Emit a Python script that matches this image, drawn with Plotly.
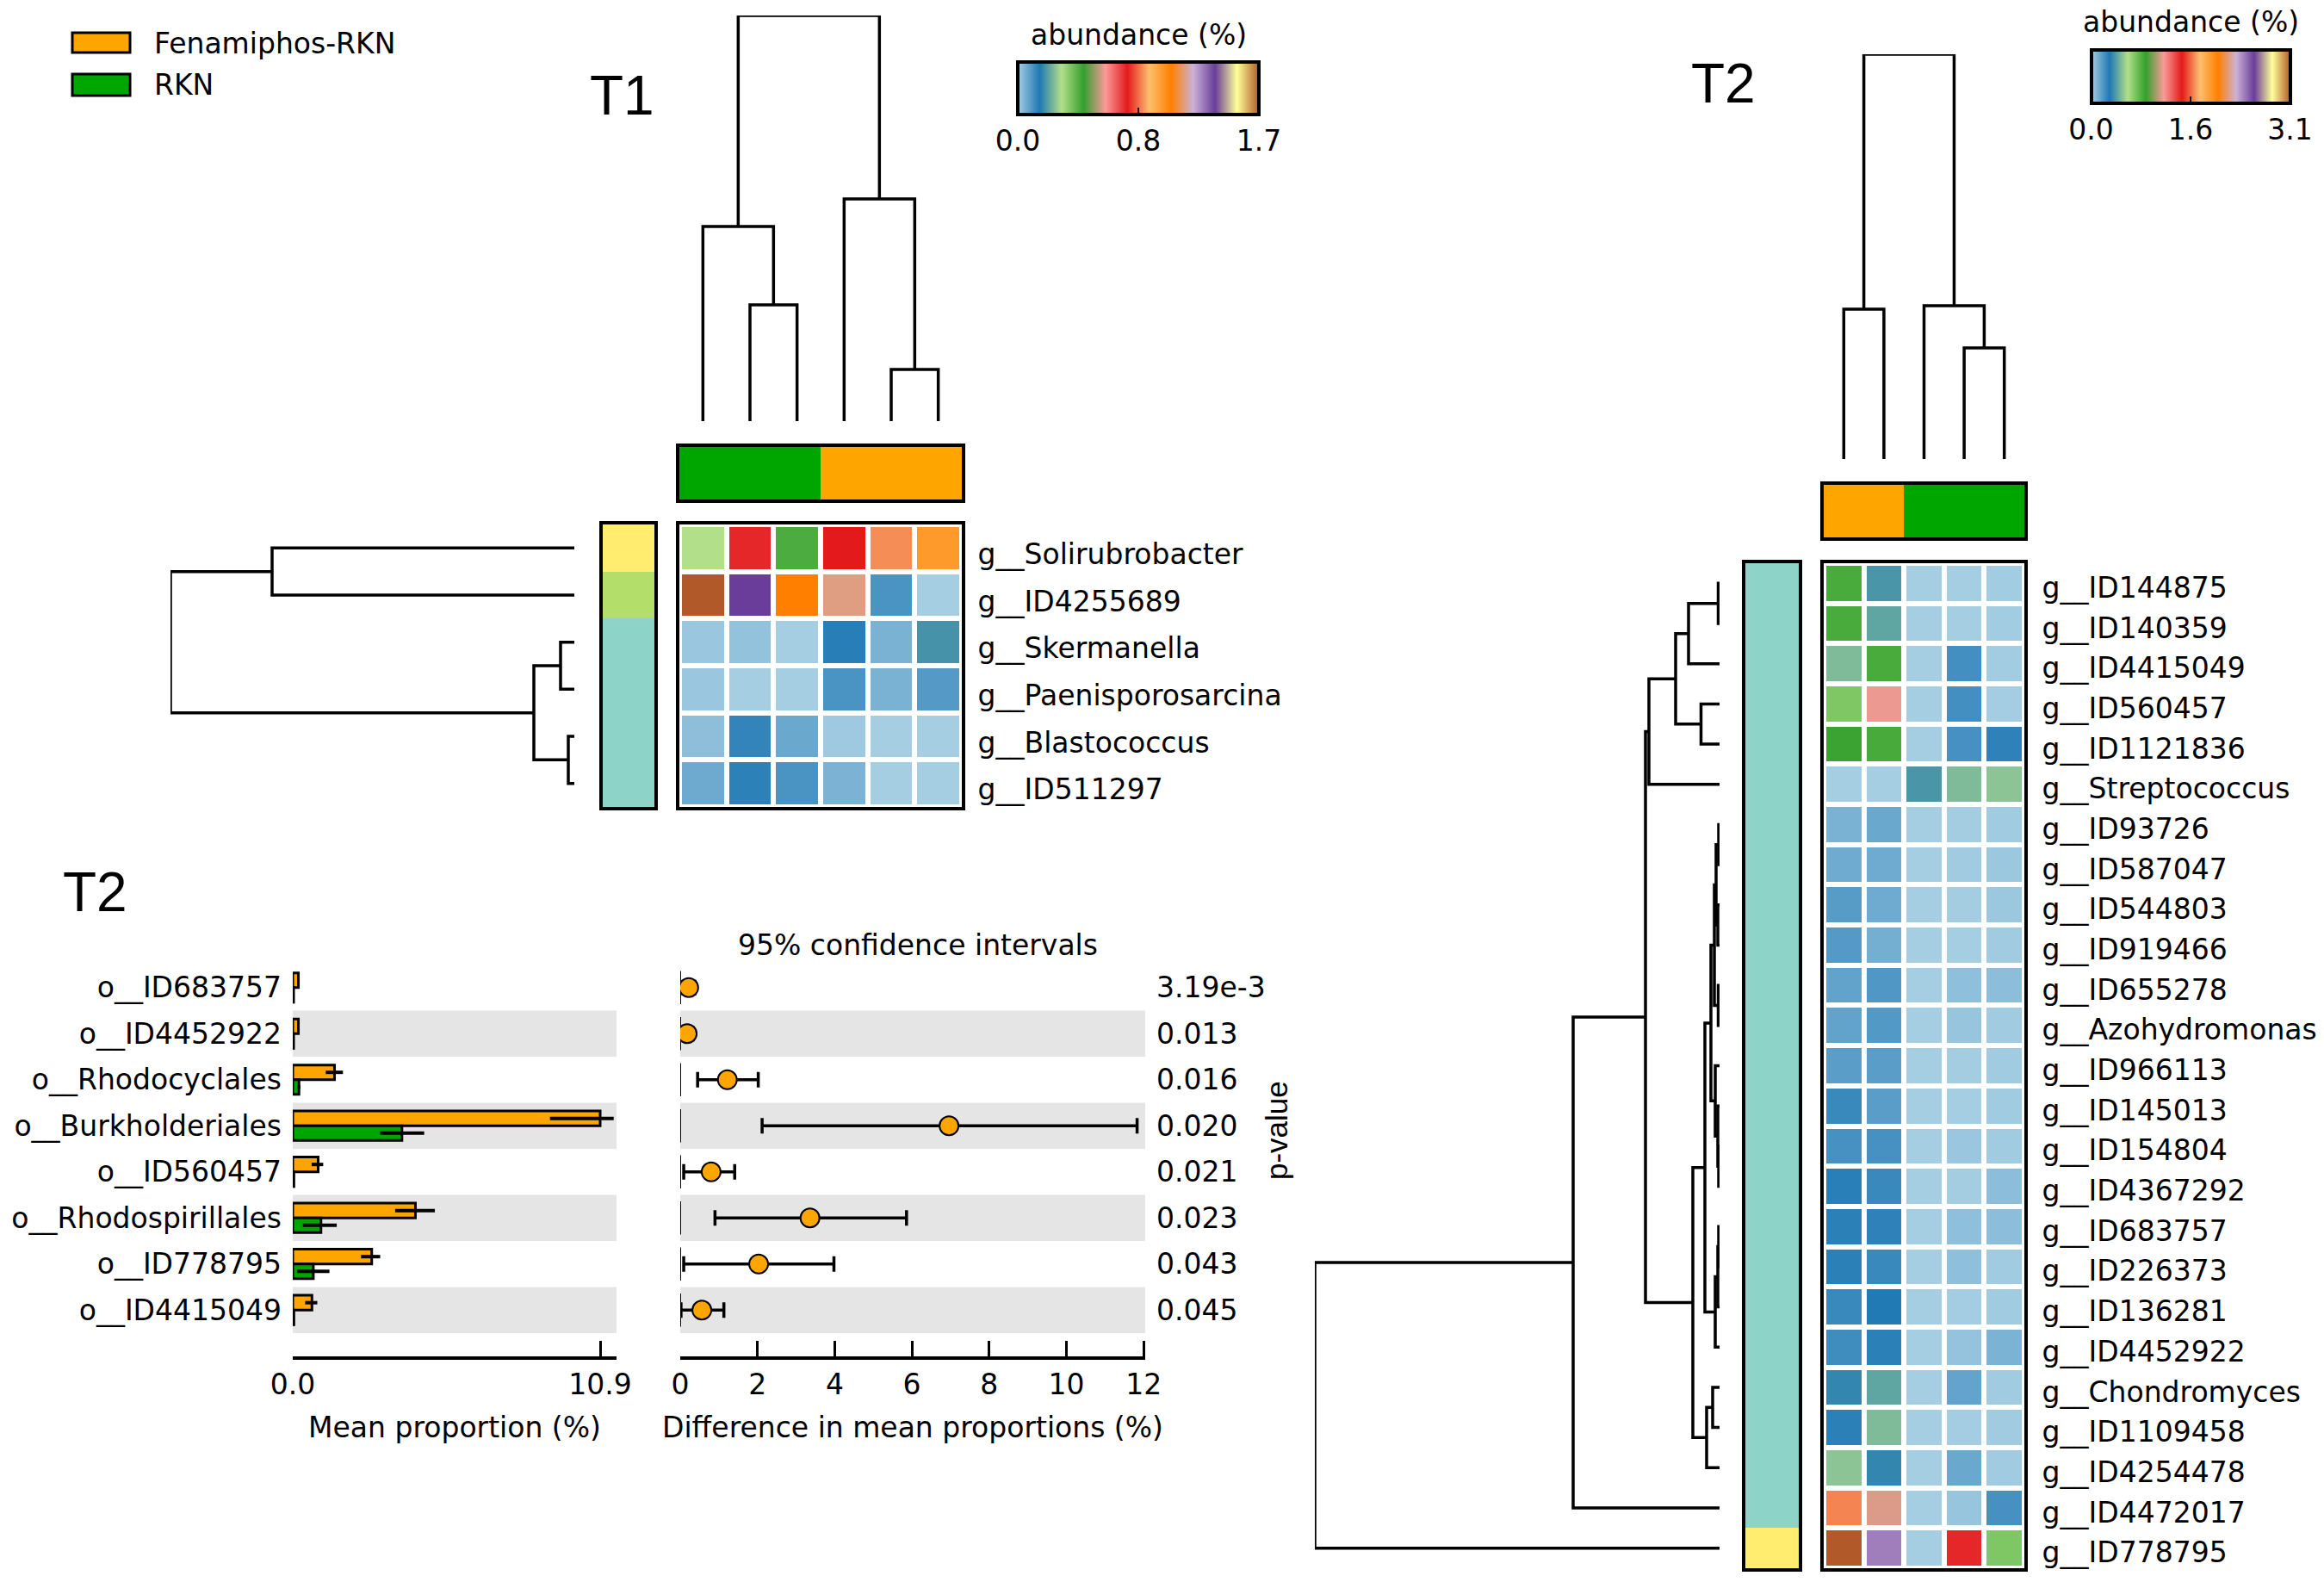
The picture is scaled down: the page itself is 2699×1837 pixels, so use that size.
import plotly.graph_objects as go

W, H = 2699, 1837
FONT = "DejaVu Sans"
TFONT = "Liberation Sans"

# ---------------- data ----------------
GROUPS = ["Fenamiphos-RKN", "RKN"]
GROUP_COLORS = ["#FFA500", "#00A600"]
PAIRED = ['#a6cee3', '#1f78b4', '#b2df8a', '#33a02c', '#fb9a99', '#e31a1c',
          '#fdbf6f', '#ff7f00', '#cab2d6', '#6a3d9a', '#ffff99', '#b15928']
CLUSTER_COLORS = ['#8dd3c7', '#b3de69', '#ffed6f']

# T1 heatmap
t1_genera = ["g__Solirubrobacter", "g__ID4255689", "g__Skermanella",
             "g__Paenisporosarcina", "g__Blastococcus", "g__ID511297"]
t1_sample_groups = ["RKN", "RKN", "RKN", "Fenamiphos-RKN", "Fenamiphos-RKN", "Fenamiphos-RKN"]
t1_abundance = [
    [0.309, 0.757, 0.433, 0.773, 0.880, 1.020],
    [1.700, 1.391, 1.082, 1.175, 0.105, 0.000],
    [0.014, 0.022, 0.000, 0.144, 0.050, 0.194],
    [0.014, 0.000, 0.000, 0.105, 0.050, 0.093],
    [0.028, 0.133, 0.068, 0.009, 0.000, 0.000],
    [0.064, 0.138, 0.105, 0.048, 0.000, 0.000],
]
t1_row_cluster = [2, 1, 0, 0, 0, 0]
t1_zmax = 1.7
t1_cbar_text = ["0.0", "0.8", "1.7"]
# trees: (left, right, height); ints are leaf positions
t1_col_tree = ((0, (1, 2, 1.35), 2.26), (3, (4, 5, 0.60), 2.58), 4.71)
t1_row_tree = ((0, 1, 3.51), ((2, 3, 0.16), (4, 5, 0.07), 0.47), 4.69)

# T2 heatmap
t2_genera = ["g__ID144875", "g__ID140359", "g__ID4415049", "g__ID560457", "g__ID1121836",
             "g__Streptococcus", "g__ID93726", "g__ID587047", "g__ID544803", "g__ID919466",
             "g__ID655278", "g__Azohydromonas", "g__ID966113", "g__ID145013", "g__ID154804",
             "g__ID4367292", "g__ID683757", "g__ID226373", "g__ID136281", "g__ID4452922",
             "g__Chondromyces", "g__ID1109458", "g__ID4254478", "g__ID4472017", "g__ID778795"]
t2_sample_groups = ["Fenamiphos-RKN", "Fenamiphos-RKN", "RKN", "RKN", "RKN"]
t2_abundance = [
    [0.795, 0.364, 0.000, 0.000, 0.008],
    [0.795, 0.404, 0.000, 0.000, 0.008],
    [0.465, 0.795, 0.000, 0.205, 0.008],
    [0.676, 1.106, 0.000, 0.205, 0.005],
    [0.830, 0.800, 0.000, 0.200, 0.250],
    [0.000, 0.000, 0.364, 0.465, 0.490],
    [0.092, 0.125, 0.000, 0.003, 0.010],
    [0.115, 0.115, 0.000, 0.010, 0.023],
    [0.165, 0.115, 0.000, 0.003, 0.023],
    [0.170, 0.105, 0.000, 0.000, 0.010],
    [0.142, 0.180, 0.000, 0.050, 0.055],
    [0.142, 0.175, 0.000, 0.030, 0.010],
    [0.160, 0.160, 0.000, 0.003, 0.010],
    [0.225, 0.160, 0.000, 0.000, 0.010],
    [0.200, 0.200, 0.000, 0.025, 0.010],
    [0.260, 0.225, 0.000, 0.003, 0.055],
    [0.255, 0.250, 0.000, 0.050, 0.055],
    [0.255, 0.225, 0.000, 0.050, 0.010],
    [0.225, 0.275, 0.000, 0.005, 0.010],
    [0.215, 0.255, 0.000, 0.035, 0.090],
    [0.320, 0.404, 0.000, 0.140, 0.010],
    [0.255, 0.465, 0.000, 0.005, 0.010],
    [0.490, 0.320, 0.000, 0.125, 0.010],
    [1.590, 1.083, 0.000, 0.030, 0.200],
    [3.100, 2.380, 0.000, 1.380, 0.676],
]
t2_row_cluster = [0, 0, 0, 0, 0, 0, 0, 0, 0, 0, 0, 0, 0, 0, 0, 0, 0, 0, 0, 0, 0, 0, 0, 0, 2]
t2_zmax = 3.1
t2_cbar_text = ["0.0", "1.6", "3.1"]
t2_col_tree = ((0, 1, 1.74), (2, (3, 4, 1.29), 1.78), 4.70)
_t2_top = ((((0, 1, 0.015), 2, 0.36), (3, 4, 0.215), 0.51), 5, 0.82)
_t2_a = ((((6, 7, 0.01), (8, 9, 0.02), 0.04), (10, 11, 0.015), 0.06),
         (12, (13, (14, 15, 0.01), 0.02), 0.05), 0.10)
_t2_b = (((16, 17, 0.01), 18, 0.02), 19, 0.05)
_t2_mid = ((_t2_a, _t2_b, 0.17), ((20, 21, 0.08), 22, 0.15), 0.31)
t2_row_tree = (((_t2_top, _t2_mid, 0.86), 23, 1.70), 24, 4.70)

# T2 extended error bar plot
orders = ["o__ID683757", "o__ID4452922", "o__Rhodocyclales", "o__Burkholderiales",
          "o__ID560457", "o__Rhodospirillales", "o__ID778795", "o__ID4415049"]
fen_mean = [0.20, 0.20, 1.48, 10.90, 0.90, 4.35, 2.80, 0.68]
fen_err_plus = [0.03, 0.03, 0.30, 0.48, 0.18, 0.69, 0.30, 0.19]
fen_err_minus = [0.03, 0.03, 0.31, 1.78, 0.23, 0.72, 0.38, 0.24]
rkn_mean = [0.03, 0.03, 0.22, 3.87, 0.04, 1.00, 0.73, 0.04]
rkn_err_plus = [0.01, 0.01, 0.05, 0.79, 0.01, 0.56, 0.57, 0.01]
rkn_err_minus = [0.01, 0.01, 0.05, 0.77, 0.01, 0.64, 0.58, 0.01]
diff_mean = [0.22, 0.18, 1.22, 6.96, 0.80, 3.36, 2.03, 0.56]
ci_low = [0.07, 0.04, 0.45, 2.12, 0.09, 0.90, 0.09, 0.02]
ci_high = [0.38, 0.33, 2.02, 11.83, 1.41, 5.86, 3.98, 1.13]
p_values = ["3.19e-3", "0.013", "0.016", "0.020", "0.021", "0.023", "0.043", "0.045"]
ci_ticks = [0, 2, 4, 6, 8, 10, 12]

# ---------------- helpers ----------------
def xd(a, b):
    return [a / W, b / W]

def yd(top, bottom):
    return [1 - bottom / H, 1 - top / H]

def px(x):
    return x / W

def py(y):
    return 1 - y / H

def tree_segments(tree):
    segs = []
    def walk(node):
        if isinstance(node, int):
            return float(node), 0.0
        left, right, h = node
        pl, hl = walk(left)
        pr, hr = walk(right)
        segs.append(((pl, pl, pr, pr), (hl, h, h, hr)))
        return (pl + pr) / 2.0, h
    walk(tree)
    return segs

def dendro_xy(tree, leaves_on_x):
    xs, ys = [], []
    for pos, hgt in tree_segments(tree):
        if leaves_on_x:
            xs += list(pos) + [None]
            ys += list(hgt) + [None]
        else:
            xs += list(hgt) + [None]
            ys += list(pos) + [None]
    return xs, ys

def discrete_scale(colors):
    n = len(colors)
    s = []
    for i, c in enumerate(colors):
        s.append([i / n, c])
        s.append([(i + 1) / n, c])
    return s

PAIRED_SCALE = [[i / (len(PAIRED) - 1), c] for i, c in enumerate(PAIRED)]

def hidden(domain, rng, anchor):
    return dict(domain=domain, range=rng, anchor=anchor, visible=False,
                fixedrange=True, automargin=False)

def boxed(domain, rng, anchor, **kw):
    d = dict(domain=domain, range=rng, anchor=anchor, showline=True, mirror=True,
             linewidth=4, linecolor="black", showgrid=False, zeroline=False,
             ticks="", showticklabels=False, fixedrange=True, automargin=False)
    d.update(kw)
    return d

fig = go.Figure()
layout = dict(width=W, height=H, margin=dict(l=0, r=0, t=0, b=0, autoexpand=False),
              paper_bgcolor="white", plot_bgcolor="rgba(0,0,0,0)", showlegend=False,
              font=dict(family=FONT, size=33, color="black"),
              barmode="group", bargap=0.36, bargroupgap=0)

DLINE = dict(color="black", width=3.5)
TXT = dict(family=FONT, size=33, color="black")
annotations = []

def add_heat_block(k, geo, genera, groups, abundance, clusters, zmax, cbar_text, col_tree, row_tree, cbar_geo):
    n_rows, n_cols = len(genera), len(groups)
    cols = list(range(n_cols))
    rows = list(range(n_rows))
    xr = [-0.5, n_cols - 0.5]
    yr = [n_rows - 0.5, -0.5]
    # column dendrogram
    a = k
    xs, ys = dendro_xy(col_tree, True)
    fig.add_trace(go.Scatter(x=xs, y=ys, mode="lines", line=DLINE, hoverinfo="skip",
                             xaxis=f"x{a}", yaxis=f"y{a}"))
    layout[f"xaxis{a}"] = hidden(xd(*geo["heat_x"]), xr, f"y{a}")
    layout[f"yaxis{a}"] = hidden(yd(*geo["coldend_y"]), [0, col_tree[2]], f"x{a}")
    # column group bar
    a = k + 1
    fig.add_trace(go.Heatmap(z=[[GROUPS.index(g) for g in groups]], x=cols, y=[0],
                             colorscale=discrete_scale(GROUP_COLORS), zmin=-0.5, zmax=len(GROUPS) - 0.5,
                             showscale=False, hoverinfo="skip", xaxis=f"x{a}", yaxis=f"y{a}"))
    layout[f"xaxis{a}"] = boxed(xd(*geo["heat_x"]), xr, f"y{a}")
    layout[f"yaxis{a}"] = boxed(yd(*geo["colbar_y"]), [-0.5, 0.5], f"x{a}")
    # main heatmap with colour bar
    a = k + 2
    cx, ctop, clen, cthick, title_y = cbar_geo
    fig.add_trace(go.Heatmap(z=abundance, x=cols, y=rows, colorscale=PAIRED_SCALE,
                             zmin=0, zmax=zmax, xgap=6, ygap=6, hoverinfo="skip",
                             xaxis=f"x{a}", yaxis=f"y{a}", showscale=True,
                             colorbar=dict(orientation="h", x=px(cx), xanchor="center",
                                           y=py(ctop), yanchor="top", len=clen, lenmode="pixels",
                                           thickness=cthick, thicknessmode="pixels",
                                           xpad=0, ypad=0, outlinewidth=4, outlinecolor="black",
                                           tickvals=[0, zmax / 2, zmax], ticktext=cbar_text,
                                           ticks="inside", ticklen=10, tickwidth=2, tickcolor="black",
                                           tickfont=TXT)))
    annotations.append(dict(text="abundance (%)", x=px(cx), y=py(title_y), xref="paper",
                            yref="paper", xanchor="center", yanchor="middle",
                            showarrow=False, font=TXT))
    layout[f"xaxis{a}"] = boxed(xd(*geo["heat_x"]), xr, f"y{a}")
    layout[f"yaxis{a}"] = boxed(yd(*geo["heat_y"]), yr, f"x{a}", side="right",
                                showticklabels=True, tickvals=rows, ticktext=genera,
                                ticklabelstandoff=geo["label_pad"], ticklabelshift=geo["label_shift"],
                                tickfont=TXT)
    # row cluster bar
    a = k + 3
    fig.add_trace(go.Heatmap(z=[[c] for c in clusters], x=[0], y=rows,
                             colorscale=discrete_scale(CLUSTER_COLORS), zmin=-0.5,
                             zmax=len(CLUSTER_COLORS) - 0.5, showscale=False, hoverinfo="skip",
                             xaxis=f"x{a}", yaxis=f"y{a}"))
    layout[f"xaxis{a}"] = boxed(xd(*geo["rowbar_x"]), [-0.5, 0.5], f"y{a}")
    layout[f"yaxis{a}"] = boxed(yd(*geo["heat_y"]), yr, f"x{a}")
    # row dendrogram
    a = k + 4
    xs, ys = dendro_xy(row_tree, False)
    fig.add_trace(go.Scatter(x=xs, y=ys, mode="lines", line=DLINE, hoverinfo="skip",
                             xaxis=f"x{a}", yaxis=f"y{a}"))
    layout[f"xaxis{a}"] = hidden(xd(*geo["rowdend_x"]), [row_tree[2], 0], f"y{a}")
    layout[f"yaxis{a}"] = hidden(yd(*geo["heat_y"]), yr, f"x{a}")


geo_t1 = dict(heat_x=(789, 1117), coldend_y=(18, 489), colbar_y=(519, 580),
              heat_y=(609, 937), rowbar_x=(700, 760), rowdend_x=(198, 667),
              label_pad=8, label_shift=-7)
geo_t2 = dict(heat_x=(2118, 2351), coldend_y=(63, 533), colbar_y=(563, 624),
              heat_y=(654, 1821), rowbar_x=(2027, 2089), rowdend_x=(1527, 1997),
              label_pad=10, label_shift=-5)

add_heat_block(1, geo_t1, t1_genera, t1_sample_groups, t1_abundance, t1_row_cluster,
               t1_zmax, t1_cbar_text, t1_col_tree, t1_row_tree, (1322, 72, 280, 61, 41))
add_heat_block(6, geo_t2, t2_genera, t2_sample_groups, t2_abundance, t2_row_cluster,
               t2_zmax, t2_cbar_text, t2_col_tree, t2_row_tree, (2544, 58, 231, 62, 26))

# ---------------- extended error bar plot ----------------
rows8 = list(range(len(orders)))
yr8 = [8.005, -0.5]
fig.add_trace(go.Bar(y=rows8, x=fen_mean, orientation="h", name=GROUPS[0],
                     marker=dict(color=GROUP_COLORS[0], line=dict(color="black", width=3)),
                     error_x=dict(type="data", symmetric=False, array=fen_err_plus,
                                  arrayminus=fen_err_minus, color="black", thickness=4, width=0),
                     hoverinfo="skip", xaxis="x11", yaxis="y11"))
fig.add_trace(go.Bar(y=rows8, x=rkn_mean, orientation="h", name=GROUPS[1],
                     marker=dict(color=GROUP_COLORS[1], line=dict(color="black", width=3)),
                     error_x=dict(type="data", symmetric=False, array=rkn_err_plus,
                                  arrayminus=rkn_err_minus, color="black", thickness=4, width=0),
                     hoverinfo="skip", xaxis="x11", yaxis="y11"))
bar_max = max(fen_mean + rkn_mean)
layout["xaxis11"] = dict(domain=xd(340, 716), range=[0, 11.48], anchor="y11",
                         showline=True, linewidth=4, linecolor="black", showgrid=False,
                         zeroline=False, ticks="inside", ticklen=18, tickwidth=2.5,
                         tickcolor="black", tickvals=[0, bar_max],
                         ticktext=[f"{0:.1f}", f"{bar_max:.1f}"], tickfont=TXT,
                         title=dict(text="Mean proportion (%)", standoff=21, font=TXT),
                         fixedrange=True, automargin=False)
layout["yaxis11"] = dict(domain=yd(1120, 1575), range=yr8, anchor="x11", showline=False,
                         showgrid=False, zeroline=False, ticks="", tickvals=rows8,
                         ticktext=orders, ticklabelstandoff=12, tickfont=TXT,
                         fixedrange=True, automargin=False)

# zero reference segments per row
zx, zy = [], []
for i in rows8:
    zx += [0, 0, None]
    zy += [i - 0.36, i + 0.36, None]
fig.add_trace(go.Scatter(x=zx, y=zy, mode="lines", line=dict(color="black", width=2),
                         hoverinfo="skip", xaxis="x12", yaxis="y12"))
fig.add_trace(go.Scatter(x=diff_mean, y=rows8, mode="markers",
                         marker=dict(color=GROUP_COLORS[0], size=22, line=dict(color="black", width=2)),
                         error_x=dict(type="data", symmetric=False,
                                      array=[h - m for h, m in zip(ci_high, diff_mean)],
                                      arrayminus=[m - l for m, l in zip(diff_mean, ci_low)],
                                      color="black", thickness=3.5, width=9),
                         hoverinfo="skip", xaxis="x12", yaxis="y12"))
layout["xaxis12"] = dict(domain=xd(790, 1330), range=[0, 12.04], anchor="y12",
                         showline=True, linewidth=4, linecolor="black", showgrid=False,
                         zeroline=False, ticks="inside", ticklen=18, tickwidth=2.5,
                         tickcolor="black", tickvals=ci_ticks, ticktext=[str(t) for t in ci_ticks],
                         tickfont=TXT,
                         title=dict(text="Difference in mean proportions (%)", standoff=21, font=TXT),
                         fixedrange=True, automargin=False)
layout["yaxis12"] = dict(domain=yd(1120, 1575), range=yr8, anchor="x12", side="right",
                         showline=False, showgrid=False, zeroline=False, ticks="",
                         tickvals=rows8, ticktext=p_values, ticklabelstandoff=12, tickfont=TXT,
                         fixedrange=True, automargin=False)

# alternating grey row bands
shapes = []
for i in rows8:
    if i % 2 == 1:
        for xa, ya in (("x11", "y11"), ("x12", "y12")):
            shapes.append(dict(type="rect", xref=f"{xa} domain", yref=ya, x0=0, x1=1,
                               y0=i - 0.5, y1=i + 0.5, fillcolor="#e5e5e5",
                               line=dict(width=0), layer="below"))

# legend boxes (group colours)
legend_geo = [(38, 61, 50), (86, 111, 99)]
for g, c, (t, b, m) in zip(GROUPS, GROUP_COLORS, legend_geo):
    shapes.append(dict(type="rect", xref="paper", yref="paper", x0=px(84), x1=px(151),
                       y0=py(b), y1=py(t), fillcolor=c, line=dict(color="black", width=3)))
    annotations.append(dict(text=g, x=px(177), y=py(m), xref="paper", yref="paper",
                            xanchor="left", yanchor="middle", showarrow=False, font=TXT))

for txt, x, y in (("T1", 722, 111), ("T2", 2001, 97), ("T2", 110, 1036)):
    annotations.append(dict(text=txt, x=px(x), y=py(y), xref="paper", yref="paper",
                            xanchor="center", yanchor="middle", showarrow=False,
                            font=dict(family=TFONT, size=64, color="black")))
annotations.append(dict(text="95% confidence intervals", x=px(1066), y=py(1097),
                        xref="paper", yref="paper", xanchor="center", yanchor="middle",
                        showarrow=False, font=TXT))
annotations.append(dict(text="p-value", x=px(1482), y=py(1313), xref="paper", yref="paper",
                        xanchor="center", yanchor="middle", textangle=-90, showarrow=False,
                        font=dict(family=TFONT, size=35, color="black")))

layout["shapes"] = shapes
layout["annotations"] = annotations
fig.update_layout(**layout)

fig.write_html("out.html", config={"displayModeBar": False},
               post_script="document.body.style.margin='0px';")
